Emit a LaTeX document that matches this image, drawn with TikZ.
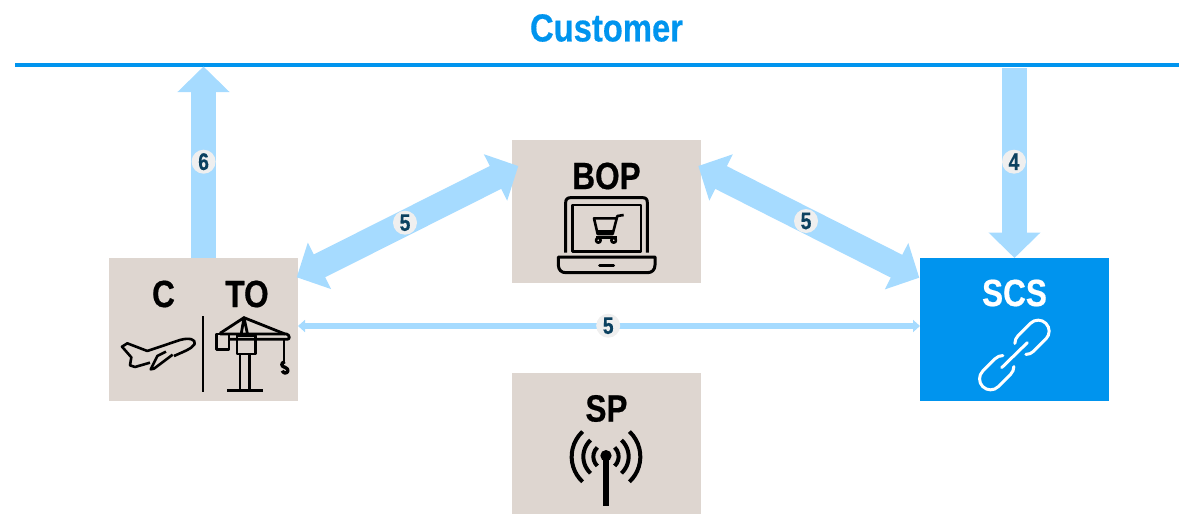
\documentclass[tikz,border=0pt]{standalone}
\usepackage{fontspec}
\setmainfont[BoldFeatures={FakeBold=0.5}]{Liberation Sans}
\usetikzlibrary{arrows.meta,calc}
\definecolor{boxc}{HTML}{DED6D0}
\definecolor{bluec}{HTML}{0094EE}
\definecolor{arrowc}{HTML}{A6DBFF}
\definecolor{numc}{HTML}{0B4160}
\definecolor{circc}{HTML}{EFEFEF}
\newcommand{\nar}[1]{\scalebox{.83}[1]{#1}}
\tikzset{
  tanbox/.style={fill=boxc,draw=none,minimum width=189pt,minimum height=143pt,inner sep=0pt,outer sep=0pt},
  bluebox/.style={tanbox,fill=bluec},
  title/.style={font=\fontsize{38}{38}\selectfont\bfseries,inner sep=0pt,text=black},
  bigarrow/.style={draw=arrowc,line width=25.5pt,{Triangle[width=50.5pt,length=25.5pt]}-{Triangle[width=50.5pt,length=25.5pt]}},
  onearrow/.style={draw=arrowc,line width=25.5pt,-{Triangle[width=50.5pt,length=25.5pt]}},
  thinarrow/.style={draw=arrowc,line width=6.5pt,{Triangle[width=12pt,length=7pt]}-{Triangle[width=12pt,length=7pt]}},
  numbadge/.style={circle,fill=circc,minimum size=24pt,inner sep=0pt,text=numc,font=\fontsize{24}{24}\selectfont\bfseries},
  icon/.style={line width=2.6pt,line join=round,line cap=butt},
  zoomed/.style={x=.33333pt,y=-.33333pt}
}
\newcommand{\chainlink}[3]{% x, y, rotation
  \begin{scope}[shift={(#1,#2)},x=1pt,y=1pt,rotate=#3]
    \draw[white,line width=3pt,line cap=round]
      (-8.7,0)++(225:11) arc[start angle=225,end angle=270,radius=11]
      -- (8.7,-11) arc[start angle=-90,end angle=90,radius=11]
      -- (-8.7,11) arc[start angle=90,end angle=135,radius=11];
  \end{scope}}
\begin{document}
\begin{tikzpicture}[x=1pt,y=-1pt]
\useasboundingbox (0,0) rectangle (1179,514);
% boxes
\node[tanbox] (cto) at (203.5,329.5) {};
\node[tanbox] (bop) at (606.5,211.5) {};
\node[tanbox,minimum height=141pt] (sp) at (606.5,443.5) {};
\node[bluebox] (scs) at (1014.5,329.5) {};
% customer
\node[font=\fontsize{39}{39}\selectfont\bfseries,text=bluec,inner sep=0pt] (cust) at (606.5,28) {\scalebox{.84}[1]{Customer}};
\coordinate (lineL) at (15,64.5);
\coordinate (lineR) at (1179,64.5);
\draw[bluec,line width=4pt] (lineL) -- (lineR);
% titles
\node[title] (tc) at (163.5,294) {\nar{C}};
\node[title] (tto) at (247,294) {\nar{TO}};
\node[title] (tbop) at (606.5,176) {\nar{BOP}};
\node[title] (tsp) at (606.5,408.5) {\nar{SP}};
\node[title,text=white] (tscs) at (1014.5,293) {\nar{SCS}};
% arrows
\coordinate (up6) at (203.5,66.5);
\coordinate (down4) at (1014.5,68);
\draw[onearrow] (203.5,258 -| up6) -- (up6);
\draw[onearrow] (down4) -- (scs.north);
\draw[bigarrow] ($(cto.north east)+(-1.3,19.3)$) -- ($(bop.north west)+(6.3,26)$);
\draw[bigarrow] ($(bop.north east)+(-2.7,26)$) -- ($(scs.north west)+(-.7,19.7)$);
\draw[thinarrow] ($(cto.east)+(0,-3.5)$) -- ($(scs.west)+(0,-3.5)$);
% badges
\node[numbadge] (n6) at (203.6,161.7) {\scalebox{.8}[1]{6}};
\node[numbadge] (n4) at (1014,161.7) {\scalebox{.8}[1]{4}};
\node[numbadge] (n5a) at (405,222.7) {\scalebox{.8}[1]{5}};
\node[numbadge] (n5b) at (806,221) {\scalebox{.8}[1]{5}};
\node[numbadge] (n5c) at (608.2,325.7) {\scalebox{.8}[1]{5}};
% plane + crane
\begin{scope}[shift={(100,250)},zoomed,icon]
  \draw[line width=1.8pt] (309,198) -- (309,425);
  % plane
  \draw (222,318) .. controls (250,305) and (275,297) .. (284,282)
        .. controls (288,268) and (268,262) .. (240,270)
        -- (142,303) -- (82,280) -- (66,290) -- (94,322) -- (90,346)
        -- (105,351) -- (150,338);
  \draw (198,305) -- (172,318) -- (152,358) -- (162,356) -- (218,314);
  % crane
  \draw[line width=2.8pt] (360,250) -- (432,203) -- (555,252);
  \draw[line width=2.8pt] (424,250) -- (432,203) -- (442,250);
  \draw[line width=2.8pt] (360,252) -- (560,252) .. controls (570,256) and (570,268) .. (562,268) -- (390,268);
  \draw[line width=2.8pt] (349,252) rectangle (387,298);
  \draw[line width=2.8pt] (411,256) rectangle (467,312);
  \draw[line width=2.8pt] (420,312) -- (420,420) (448,312) -- (448,420);
  \draw[line width=2.8pt] (382,422) -- (488,422);
  \draw[line width=2.4pt] (552,268) -- (552,335);
  \draw[line width=3.4pt] (554,335) .. controls (540,340) and (545,350) .. (555,352)
        .. controls (568,356) and (565,370) .. (555,369) .. controls (550,368) and (548,365) .. (547,362);
\end{scope}
% laptop + cart
\begin{scope}[shift={(500,130)},zoomed,icon]
  \draw[line width=3pt] (197,368) -- (197,218) .. controls (197,208) and (202,203) .. (212,203)
        -- (428,203) .. controls (438,203) and (442,208) .. (442,218) -- (442,368);
  \draw[line width=2.8pt] (217,225) rectangle (423,365);
  \draw[line width=3pt] (175,381) -- (465,381) -- (465,405) .. controls (465,420) and (455,428) .. (443,428)
        -- (197,428) .. controls (185,428) and (175,420) .. (175,405) -- cycle;
  \draw[line width=3pt,line cap=round] (299,405) -- (341,405);
  \draw (371,255) -- (352,258) -- (338,312) -- (293,312) -- (282,265) -- (346,265);
  \draw (293,305) -- (340,305);
  \draw (288,322) -- (350,322);
  \draw (295,331) circle[radius=7];
  \draw (341,331) circle[radius=7];
\end{scope}
% antenna
\begin{scope}[shift={(500,365)},zoomed]
  \fill (318,272) circle[radius=17];
  \draw[line width=6.5pt] (318,272) -- (318,422);
  \foreach \r in {38,68,103}{
    \draw[line width=4pt] (318,275) ++(133:\r) arc[start angle=133,end angle=227,radius=\r];
    \draw[line width=4pt] (318,275) ++(47:\r) arc[start angle=47,end angle=-47,radius=\r];
  }
\end{scope}
% chain
\chainlink{1032}{337.3}{45}
\chainlink{996.7}{372.7}{225}
\begin{scope}[shift={(910,250)},zoomed]
  \draw[white,line width=3pt,line cap=round] (275,353) -- (352,278);
\end{scope}
\end{tikzpicture}
\end{document}
